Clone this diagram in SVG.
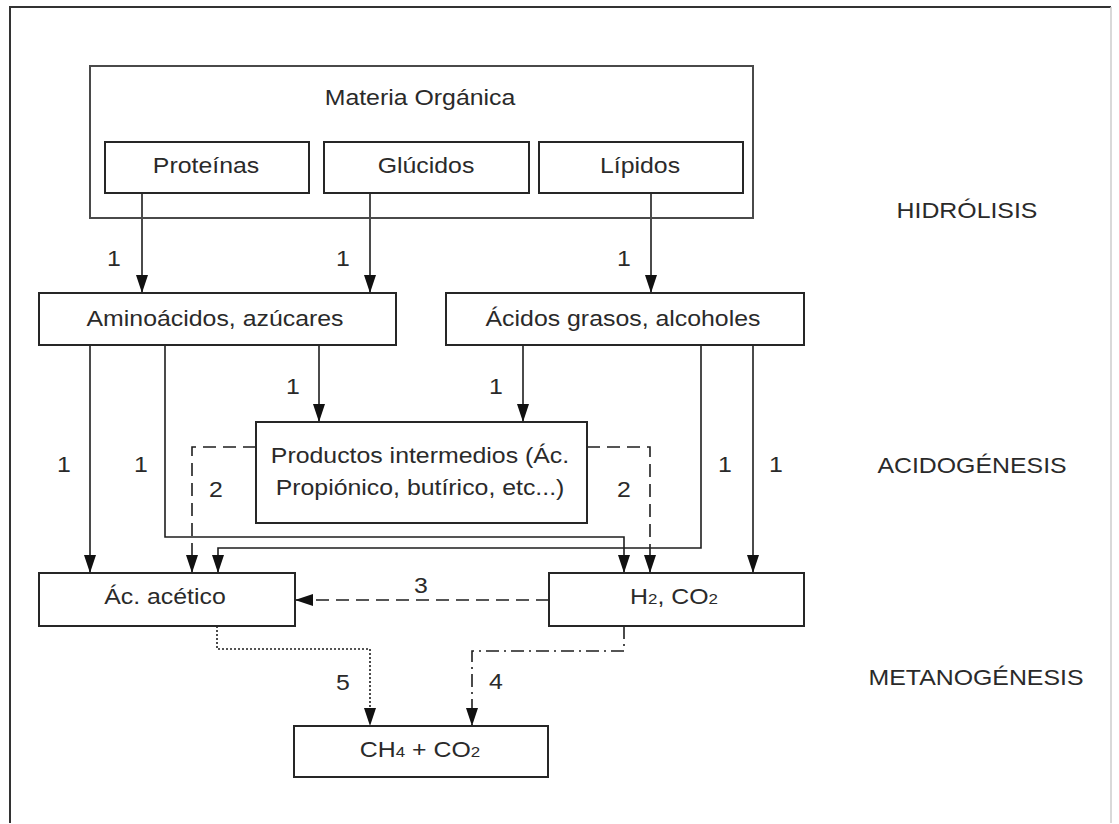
<svg xmlns="http://www.w3.org/2000/svg" width="1119" height="824" viewBox="0 0 1119 824">
  <style>
    .box { fill: #fff; stroke: #262626; stroke-width: 2; }
    .group { fill: none; stroke: #4a4a4a; stroke-width: 2; }
    .t { font-family: "Liberation Sans", Arial, sans-serif; font-size: 22px; fill: #2a2a2a; text-anchor: middle; }
    .sub { font-size: 15px; }
    .ln { fill: none; stroke: #1e1e1e; stroke-width: 1.6; }
    .dash { stroke-dasharray: 13 7; }
    .dot { stroke-dasharray: 2 2; }
    .dashdot { stroke-dasharray: 13 5 2 5; }
    .arrow { marker-end: url(#head); }
  </style>
  <defs>
    <marker id="head" markerUnits="userSpaceOnUse" markerWidth="18" markerHeight="12" refX="18" refY="6" orient="auto">
      <path d="M0,0 L18,6 L0,12 z" fill="#111"/>
    </marker>
  </defs>

  <rect width="1119" height="824" fill="#fff"/>

  <!-- outer frame -->
  <g id="frame" fill="none">
    <path d="M10 823 V7 H1111" stroke="#333" stroke-width="2"/>
    <path d="M1111 7 V823" stroke="#ccc" stroke-width="1.5"/>
  </g>

  <!-- stage labels -->
  <g id="stages">
    <text class="t" transform="translate(967,218) scale(1.13,1)">HIDRÓLISIS</text>
    <text class="t" transform="translate(972,473) scale(1.13,1)">ACIDOGÉNESIS</text>
    <text class="t" transform="translate(976,685) scale(1.13,1)">METANOGÉNESIS</text>
  </g>

  <!-- connectors -->
  <g id="connectors">
    <path class="ln arrow" d="M142 193 V293"/>
    <path class="ln arrow" d="M370 193 V293"/>
    <path class="ln arrow" d="M651 193 V293"/>
    <path class="ln arrow" d="M90 345 V573"/>
    <path class="ln arrow" d="M165 345 V537 H624 V573"/>
    <path class="ln arrow" d="M319 345 V422"/>
    <path class="ln arrow" d="M523 345 V422"/>
    <path class="ln arrow" d="M701 345 V548 H218 V573"/>
    <path class="ln arrow" d="M753 345 V573"/>
    <path class="ln dash arrow" d="M256 447 H192 V573"/>
    <path class="ln dash arrow" d="M587 447 H650 V573"/>
    <path class="ln dash arrow" d="M549 600 H295"/>
    <path class="ln dot arrow" d="M217 626 V649 H370 V726"/>
    <path class="ln dashdot arrow" d="M624 626 V651 H472 V726"/>

    <text class="t" transform="translate(114,266) scale(1.13,1)">1</text>
    <text class="t" transform="translate(343,266) scale(1.13,1)">1</text>
    <text class="t" transform="translate(624,266) scale(1.13,1)">1</text>
    <text class="t" transform="translate(293,394) scale(1.13,1)">1</text>
    <text class="t" transform="translate(496,394) scale(1.13,1)">1</text>
    <text class="t" transform="translate(64,472) scale(1.13,1)">1</text>
    <text class="t" transform="translate(141,472) scale(1.13,1)">1</text>
    <text class="t" transform="translate(725,472) scale(1.13,1)">1</text>
    <text class="t" transform="translate(776,472) scale(1.13,1)">1</text>
    <text class="t" transform="translate(216,497) scale(1.13,1)">2</text>
    <text class="t" transform="translate(624,497) scale(1.13,1)">2</text>
    <text class="t" transform="translate(421,593) scale(1.13,1)">3</text>
    <text class="t" transform="translate(343,690) scale(1.13,1)">5</text>
    <text class="t" transform="translate(496,689) scale(1.13,1)">4</text>
  </g>

  <!-- nodes -->
  <g id="materia-organica">
    <rect class="group" x="90" y="66" width="663" height="152"/>
    <text class="t" transform="translate(420,105) scale(1.13,1)">Materia Orgánica</text>
  </g>
  <g id="proteinas">
    <rect class="box" x="105" y="142" width="204" height="51"/>
    <text class="t" transform="translate(206,173) scale(1.13,1)">Proteínas</text>
  </g>
  <g id="glucidos">
    <rect class="box" x="324" y="142" width="205" height="51"/>
    <text class="t" transform="translate(426,173) scale(1.13,1)">Glúcidos</text>
  </g>
  <g id="lipidos">
    <rect class="box" x="539" y="142" width="204" height="51"/>
    <text class="t" transform="translate(640,173) scale(1.13,1)">Lípidos</text>
  </g>
  <g id="aminoacidos">
    <rect class="box" x="39" y="293" width="357" height="52"/>
    <text class="t" transform="translate(215,326) scale(1.13,1)">Aminoácidos, azúcares</text>
  </g>
  <g id="acidos-grasos">
    <rect class="box" x="446" y="293" width="358" height="52"/>
    <text class="t" transform="translate(623,326) scale(1.13,1)">Ácidos grasos, alcoholes</text>
  </g>
  <g id="productos-intermedios">
    <rect class="box" x="256" y="422" width="331" height="101"/>
    <text class="t" transform="translate(420,463) scale(1.13,1)">Productos intermedios (Ác.</text>
    <text class="t" transform="translate(420,495) scale(1.13,1)">Propiónico, butírico, etc...)</text>
  </g>
  <g id="acido-acetico">
    <rect class="box" x="39" y="573" width="256" height="53"/>
    <text class="t" transform="translate(165,604) scale(1.13,1)">Ác. acético</text>
  </g>
  <g id="h2-co2">
    <rect class="box" x="549" y="573" width="255" height="53"/>
    <text class="t" transform="translate(674,604) scale(1.13,1)">H<tspan class="sub">2</tspan>, CO<tspan class="sub">2</tspan></text>
  </g>
  <g id="ch4-co2">
    <rect class="box" x="294" y="726" width="254" height="51"/>
    <text class="t" transform="translate(420,757) scale(1.13,1)">CH<tspan class="sub">4</tspan> + CO<tspan class="sub">2</tspan></text>
  </g>
</svg>
